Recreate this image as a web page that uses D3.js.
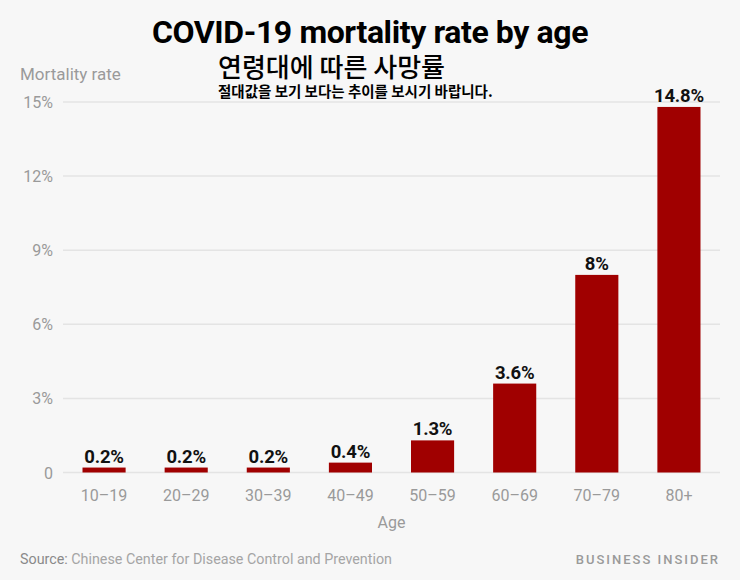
<!DOCTYPE html>
<html>
<head>
<meta charset="utf-8">
<script src="https://cdn.jsdelivr.net/npm/d3@7"></script>
<style>
  body { margin: 0; background: #f7f7f7; }
  svg { display: block; }
</style>
</head>
<body>
<div id="chart"></div>
<script>
const ageGroups = ["10–19", "20–29", "30–39", "40–49", "50–59", "60–69", "70–79", "80+"];
const mortality = [0.2, 0.2, 0.2, 0.4, 1.3, 3.6, 8, 14.8];
const yTicks = [0, 3, 6, 9, 12, 15];

const width = 740, height = 580;
const fontFamily = "Roboto, 'Noto Sans', sans-serif";
const krFont = "'Noto Sans CJK KR', sans-serif";
const barColor = "#a00000";
const grey = "#9a9a9a";

const svg = d3.select("#chart").append("svg")
  .attr("width", width)
  .attr("height", height);

svg.append("rect")
  .attr("width", width)
  .attr("height", height)
  .attr("fill", "#f7f7f7");

const x = d3.scaleBand()
  .domain(ageGroups)
  .range([63, 720])
  .paddingInner(0.475)
  .paddingOuter(0.2375);

const y = d3.scaleLinear()
  .domain([0, 15])
  .range([472.5, 102]);

// gridlines
svg.append("g")
  .selectAll("line")
  .data(yTicks)
  .enter().append("line")
  .attr("x1", 63)
  .attr("x2", 720)
  .attr("y1", d => y(d))
  .attr("y2", d => y(d))
  .attr("stroke", "#e4e4e4")
  .attr("stroke-width", 1.5);

// y tick labels
svg.append("g")
  .selectAll("text")
  .data(yTicks)
  .enter().append("text")
  .attr("x", 53)
  .attr("y", d => y(d) + 6)
  .attr("text-anchor", "end")
  .style("font-family", fontFamily)
  .style("font-size", "16px")
  .style("fill", grey)
  .text(d => d === 0 ? "0" : d + "%");

// bars
svg.append("g")
  .selectAll("rect")
  .data(mortality)
  .enter().append("rect")
  .attr("x", (d, i) => x(ageGroups[i]))
  .attr("y", d => y(d))
  .attr("width", x.bandwidth())
  .attr("height", d => y(0) - y(d))
  .attr("fill", barColor);

// value labels
svg.append("g")
  .selectAll("text")
  .data(mortality)
  .enter().append("text")
  .attr("x", (d, i) => x(ageGroups[i]) + x.bandwidth() / 2)
  .attr("y", d => y(d) - 5)
  .attr("text-anchor", "middle")
  .style("font-family", fontFamily)
  .style("font-weight", "700")
  .style("font-size", "18.5px")
  .style("letter-spacing", "-0.2px")
  .style("fill", "#111")
  .text(d => d + "%");

// x tick labels
svg.append("g")
  .selectAll("text")
  .data(ageGroups)
  .enter().append("text")
  .attr("x", d => x(d) + x.bandwidth() / 2)
  .attr("y", 501)
  .attr("text-anchor", "middle")
  .style("font-family", fontFamily)
  .style("font-size", "16px")
  .style("fill", grey)
  .text(d => d);

svg.append("text")
  .attr("x", 391.5)
  .attr("y", 528)
  .attr("text-anchor", "middle")
  .style("font-family", fontFamily)
  .style("font-size", "16px")
  .style("fill", grey)
  .text("Age");

svg.append("text")
  .attr("x", 20)
  .attr("y", 80)
  .style("font-family", fontFamily)
  .style("font-size", "17px")
  .style("fill", grey)
  .text("Mortality rate");

// titles
svg.append("text")
  .attr("x", 370)
  .attr("y", 43)
  .attr("text-anchor", "middle")
  .style("font-family", fontFamily)
  .style("font-weight", "700")
  .style("font-size", "32px")
  .style("letter-spacing", "-0.4px")
  .style("fill", "#000")
  .text("COVID-19 mortality rate by age");

svg.append("text")
  .attr("x", 218)
  .attr("y", 77)
  .style("font-family", krFont)
  .style("font-weight", "500")
  .style("font-size", "26px")
  .style("fill", "#000")
  .text("연령대에 따른 사망률");

svg.append("text")
  .attr("x", 218)
  .attr("y", 97)
  .style("font-family", krFont)
  .style("font-weight", "700")
  .style("font-size", "14.5px")
  .style("fill", "#000")
  .text("절대값을 보기 보다는 추이를 보시기 바랍니다.");

// footer
const source = svg.append("text")
  .attr("x", 20)
  .attr("y", 564)
  .style("font-family", fontFamily)
  .style("font-size", "14.3px")
  .style("fill", "#a5a5a5");
source.append("tspan").style("fill", "#8a8a8a").text("Source:");
source.append("tspan").text(" Chinese Center for Disease Control and Prevention");

svg.append("text")
  .attr("x", 720)
  .attr("y", 564)
  .attr("text-anchor", "end")
  .style("font-family", fontFamily)
  .style("font-weight", "500")
  .style("font-size", "13px")
  .style("letter-spacing", "2px")
  .style("fill", "#9a9a9a")
  .text("BUSINESS INSIDER");
</script>
</body>
</html>
